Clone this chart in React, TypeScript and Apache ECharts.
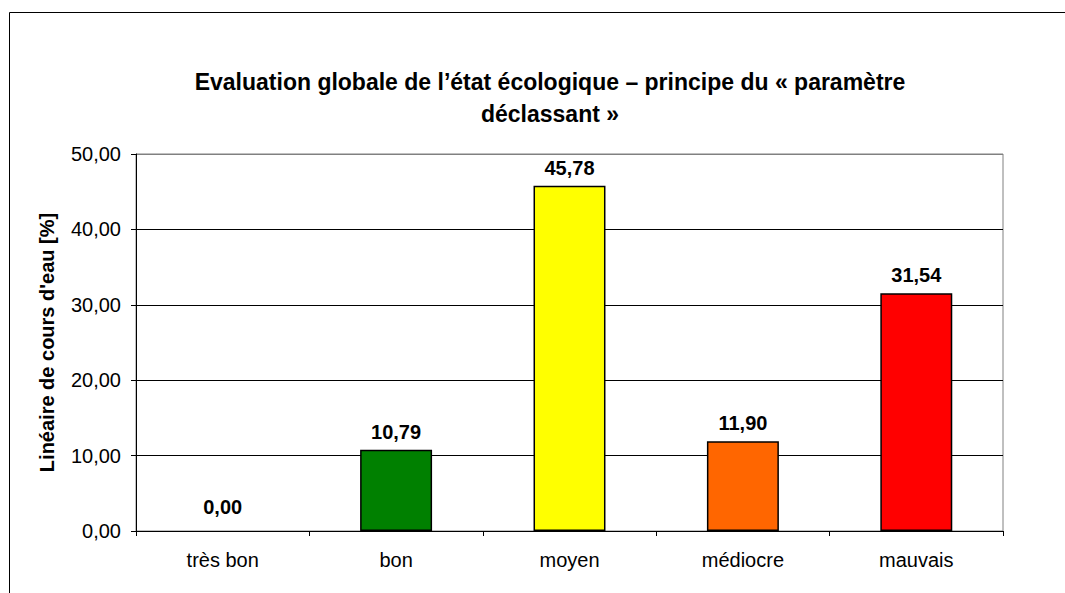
import React, { useEffect, useRef } from "react";
import * as echarts from "echarts";

const categories = ["très bon", "bon", "moyen", "médiocre", "mauvais"];
const values = [0.0, 10.79, 45.78, 11.9, 31.54];
const barColors = ["#FFFFFF", "#008000", "#FFFF00", "#FF6600", "#FF0000"];
const yTicks = { min: 0, max: 50, interval: 10 };
const titleText = "Evaluation globale de l\u2019état écologique \u2013 principe du « paramètre\ndéclassant »";
const yName = "Linéaire de cours d'eau [%]";

const fmt = (v: number) => v.toFixed(2).replace(".", ",");

export default function App() {
  const ref = useRef<HTMLDivElement>(null);
  useEffect(() => {
    document.body.style.margin = "0";
    const chart = echarts.init(ref.current!, null, { renderer: "svg" });
    const font = "'Liberation Sans', Arial, sans-serif";
    chart.setOption({
      animation: false,
      backgroundColor: "#FFFFFF",
      textStyle: { fontFamily: font },
      title: {
        text: titleText,
        left: 545,
        top: 61,
        textAlign: "center",
        textStyle: {
          fontFamily: font,
          fontSize: 23,
          fontWeight: "bold",
          color: "#000",
          lineHeight: 32,
        },
      },
      graphic: [
        {
          type: "rect",
          shape: { x: 9.5, y: 12.5, width: 1200, height: 800 },
          style: { fill: "none", stroke: "#000", lineWidth: 1 },
          silent: true,
        },
      ],
      grid: {
        left: 136,
        top: 154,
        right: 62,
        bottom: 62,
        show: true,
        borderColor: "#808080",
        borderWidth: 1,
        backgroundColor: "#FFFFFF",
      },
      xAxis: {
        type: "category",
        data: categories,
        boundaryGap: true,
        axisLine: { lineStyle: { color: "#000", width: 1 } },
        axisTick: { show: true, alignWithLabel: false, length: 5, lineStyle: { color: "#000" } },
        axisLabel: { fontFamily: font, fontSize: 20, color: "#000", margin: 19 },
        splitLine: { show: false },
      },
      yAxis: {
        type: "value",
        min: yTicks.min,
        max: yTicks.max,
        interval: yTicks.interval,
        name: yName,
        nameLocation: "middle",
        nameRotate: 90,
        nameGap: 79,
        nameTextStyle: { fontFamily: font, fontSize: 20, fontWeight: "bold", color: "#000" },
        axisLine: { show: true, lineStyle: { color: "#000", width: 1 } },
        axisTick: { show: true, length: 5, lineStyle: { color: "#000" } },
        axisLabel: { fontFamily: font, fontSize: 20, color: "#000", margin: 15, formatter: (v: number) => fmt(v) },
        splitLine: {
          show: true,
          lineStyle: { color: ["#000", "#000", "#000", "#000", "#000", "#808080"], width: 1 },
        },
      },
      series: [
        {
          type: "bar",
          barWidth: "41.5%",
          data: values.map((v, i) => ({
            value: v,
            itemStyle: {
              color: barColors[i],
              borderColor: "#000",
              borderWidth: v === 0 ? 0 : 1.5,
            },
            label: { distance: v === 0 ? 14 : 8 },
          })),
          label: {
            show: true,
            position: "top",
            fontFamily: font,
            fontSize: 20,
            fontWeight: "bold",
            color: "#000",
            formatter: (p: any) => fmt(p.value),
          },
        },
      ],
    });
    return () => chart.dispose();
  }, []);
  return (
    <div
      ref={ref}
      style={{ position: "absolute", left: 0, top: 0, width: 1065, height: 593 }}
    />
  );
}
